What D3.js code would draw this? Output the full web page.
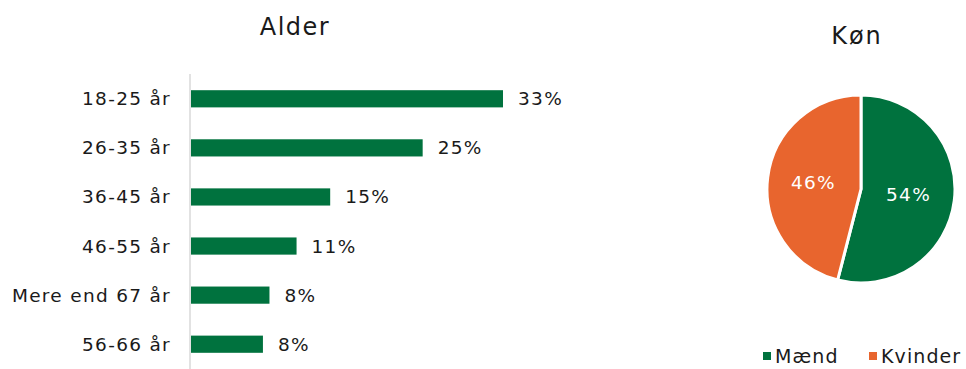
<!DOCTYPE html>
<html>
<head>
<meta charset="utf-8">
<script src="https://cdn.jsdelivr.net/npm/d3@7"></script>
<style>
  body { margin: 0; background: #fff; }
  text { font-family: "DejaVu Sans", sans-serif; fill: #1a1a1a; letter-spacing: 1.3px; }
</style>
</head>
<body>
<svg id="chart" width="966" height="369"></svg>
<script>
// age groups (bar chart)
var ageGroups = ['18-25 år', '26-35 år', '36-45 år', '46-55 år', 'Mere end 67 år', '56-66 år'];
var ageValues = [33.4, 24.8, 14.9, 11.3, 8.4, 7.7];

// gender (pie chart)
var genders = ['Mænd', 'Kvinder'];
var genderValues = [54, 46];

var green = '#00723e', orange = '#e8652e';

var svg = d3.select('#chart');

// ---- bar chart ----
var x = d3.scaleLinear().domain([0, 33.4]).range([191, 503]);
var y = d3.scaleBand().domain(ageGroups).range([74, 369]).paddingInner(0.65).paddingOuter(0.33);

svg.append('text')
  .attr('x', 295).attr('y', 35)
  .attr('text-anchor', 'middle')
  .style('font-size', '24px')
  .style('letter-spacing', '1.5px')
  .text('Alder');

svg.append('line')
  .attr('x1', 190).attr('x2', 190)
  .attr('y1', 74).attr('y2', 369)
  .attr('stroke', '#d9d9d9').attr('stroke-width', 1.5);

svg.selectAll('rect.bar')
  .data(ageValues)
  .enter().append('rect')
  .attr('class', 'bar')
  .attr('x', x(0))
  .attr('y', function(d, i) { return y(ageGroups[i]); })
  .attr('width', function(d) { return x(d) - x(0); })
  .attr('height', y.bandwidth())
  .attr('fill', green);

svg.selectAll('text.cat')
  .data(ageGroups)
  .enter().append('text')
  .attr('class', 'cat')
  .attr('x', 171)
  .attr('y', function(d) { return y(d) + y.bandwidth() / 2; })
  .attr('dy', '0.35em')
  .attr('text-anchor', 'end')
  .style('font-size', '18.5px')
  .text(function(d) { return d; });

svg.selectAll('text.val')
  .data(ageValues)
  .enter().append('text')
  .attr('class', 'val')
  .attr('x', function(d) { return x(d) + 15; })
  .attr('y', function(d, i) { return y(ageGroups[i]) + y.bandwidth() / 2; })
  .attr('dy', '0.35em')
  .style('font-size', '18.5px')
  .text(function(d) { return Math.round(d) + '%'; });

// ---- pie chart ----
var cx = 861, cy = 189, r = 94;

svg.append('text')
  .attr('x', 857).attr('y', 44)
  .attr('text-anchor', 'middle')
  .style('font-size', '24px')
  .style('letter-spacing', '2px')
  .text('Køn');

var pie = d3.pie().sort(null)(genderValues);
var arc = d3.arc().innerRadius(0).outerRadius(r);
var labelArc = d3.arc().innerRadius(r * 0.51).outerRadius(r * 0.51);

var g = svg.append('g').attr('transform', 'translate(' + cx + ',' + cy + ')');

g.selectAll('path')
  .data(pie)
  .enter().append('path')
  .attr('d', arc)
  .attr('fill', function(d, i) { return i === 0 ? green : orange; })
  .attr('stroke', '#fff')
  .attr('stroke-width', 3);

g.selectAll('text')
  .data(pie)
  .enter().append('text')
  .attr('transform', function(d) { return 'translate(' + labelArc.centroid(d) + ')'; })
  .attr('dy', '0.35em')
  .attr('text-anchor', 'middle')
  .style('font-size', '18.5px')
  .style('fill', '#fff')
  .text(function(d) { return d.data + '%'; });

// legend
var legendX = [763, 869];
var legend = svg.selectAll('g.legend')
  .data(genders)
  .enter().append('g')
  .attr('class', 'legend')
  .attr('transform', function(d, i) { return 'translate(' + legendX[i] + ',356)'; });

legend.append('rect')
  .attr('x', 0).attr('y', -4)
  .attr('width', 8).attr('height', 8)
  .attr('fill', function(d, i) { return i === 0 ? green : orange; });

legend.append('text')
  .attr('x', 12)
  .attr('dy', '0.35em')
  .style('font-size', '19px')
  .style('letter-spacing', '1.1px')
  .text(function(d) { return d; });
</script>
</body>
</html>
